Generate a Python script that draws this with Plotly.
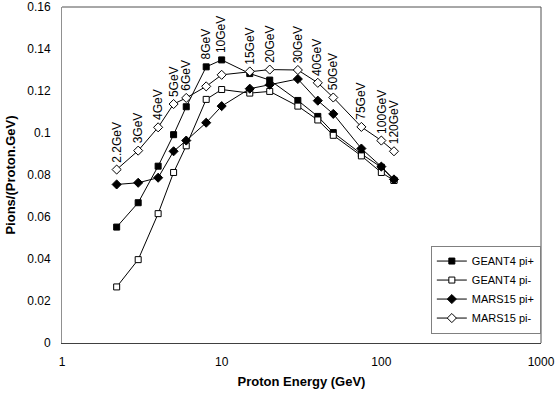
import plotly.graph_objects as go
import math

energy = [2.2, 3, 4, 5, 6, 8, 10, 15, 20, 30, 40, 50, 75, 100, 120]
energy_labels = ["2.2GeV", "3GeV", "4GeV", "5GeV", "6GeV", "8GeV", "10GeV", "15GeV",
                 "20GeV", "30GeV", "40GeV", "50GeV", "75GeV", "100GeV", "120GeV"]
geant4_pip = [0.0552, 0.0668, 0.0842, 0.0992, 0.1125, 0.1315, 0.1348, 0.1283,
              0.1252, 0.1155, 0.1079, 0.1002, 0.0900, 0.0837, 0.0775]
geant4_pim = [0.0267, 0.0397, 0.0616, 0.0812, 0.0939, 0.1160, 0.1207, 0.1190,
              0.1198, 0.1128, 0.1062, 0.0989, 0.0891, 0.0812, 0.0774]
mars15_pip = [0.0755, 0.0763, 0.0787, 0.0913, 0.0964, 0.1049, 0.1128, 0.1211,
              0.1230, 0.1257, 0.1154, 0.1091, 0.0926, 0.0840, 0.0779]
mars15_pim = [0.0826, 0.0916, 0.1027, 0.1138, 0.1167, 0.1222, 0.1277, 0.1293,
              0.1302, 0.1300, 0.1239, 0.1169, 0.1029, 0.0964, 0.0913]

y_ticks = [0, 0.02, 0.04, 0.06, 0.08, 0.1, 0.12, 0.14, 0.16]
y_tick_text = ["0", "0.02", "0.04", "0.06", "0.08", "0.1", "0.12", "0.14", "0.16"]
x_ticks = [1, 10, 100, 1000]
x_tick_text = ["1", "10", "100", "1000"]

FONT = "Liberation Sans, Arial, sans-serif"

fig = go.Figure()
series = [
    ("GEANT4 pi+", geant4_pip, "square", "black", 6),
    ("GEANT4 pi-", geant4_pim, "square", "white", 6),
    ("MARS15 pi+", mars15_pip, "diamond", "black", 7),
    ("MARS15 pi-", mars15_pim, "diamond", "white", 7),
]
for name, vals, sym, fill, sz in series:
    fig.add_trace(go.Scatter(
        x=energy, y=vals, name=name, mode="lines+markers",
        line=dict(color="black", width=1),
        marker=dict(symbol=sym, size=sz, color=fill, line=dict(color="black", width=1)),
    ))

for e, lab, a, b, c, d in zip(energy, energy_labels, geant4_pip, geant4_pim, mars15_pip, mars15_pim):
    fig.add_annotation(
        x=math.log10(e), y=max(a, b, c, d), text=lab, textangle=-90,
        showarrow=False, xanchor="center", yanchor="bottom", yshift=5,
        font=dict(family=FONT, size=12, color="black"),
    )

# plot frame (top and right borders)
fig.add_shape(type="line", xref="paper", yref="paper", x0=0, x1=1, y0=1, y1=1,
              line=dict(color="#505050", width=1), layer="above")
fig.add_shape(type="line", xref="paper", yref="paper", x0=1, x1=1, y0=0, y1=1,
              line=dict(color="#505050", width=1), layer="above")

fig.update_layout(
    width=555, height=399,
    margin=dict(l=62, r=14, t=7, b=56, autoexpand=False),
    paper_bgcolor="white", plot_bgcolor="white",
    font=dict(family=FONT, size=12, color="black"),
    showlegend=True,
    legend=dict(
        x=0.77, y=0.29, xanchor="left", yanchor="top",
        bordercolor="#808080", borderwidth=1, bgcolor="white",
        font=dict(family=FONT, size=11, color="black"),
        tracegroupgap=0, itemwidth=30,
    ),
)
fig.update_xaxes(
    type="log", range=[0, 3], tickvals=x_ticks, ticktext=x_tick_text, automargin=False,
    showgrid=False, zeroline=False, showline=True, linecolor="#404040", linewidth=1,
    ticks="", tickfont=dict(size=12), ticklabelstandoff=8, ticklabeloverflow="allow",
    title=dict(text="<b>Proton Energy (GeV)</b>", font=dict(size=13), standoff=8),
)
fig.update_yaxes(
    range=[0, 0.16], tickvals=y_ticks, ticktext=y_tick_text, automargin=False,
    showgrid=False, zeroline=False, showline=True, linecolor="#909090", linewidth=1,
    ticks="", tickfont=dict(size=12), ticklabelstandoff=8, ticklabeloverflow="allow",
    title=dict(text="<b>Pions/(Proton.GeV)</b>", font=dict(size=13), standoff=8),
)

fig.write_html(
    "out.html",
    config={"displayModeBar": False},
    post_script="document.body.style.margin='0';document.body.style.overflow='hidden';",
)
